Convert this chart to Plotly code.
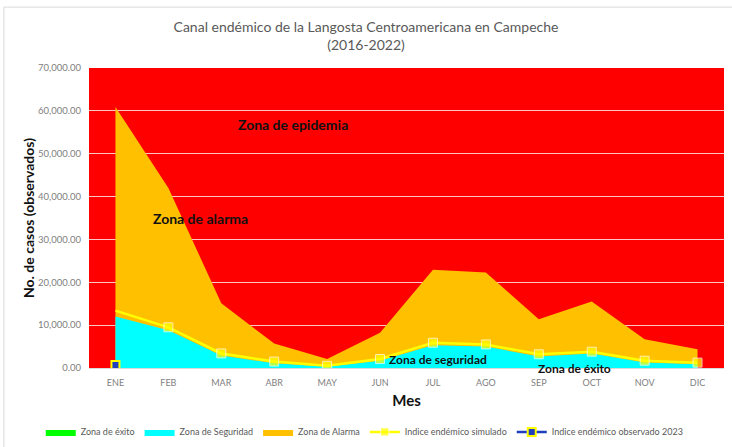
import plotly.graph_objects as go

meses = ["ENE", "FEB", "MAR", "ABR", "MAY", "JUN", "JUL", "AGO", "SEP", "OCT", "NOV", "DIC"]
zona_exito = [0, 0, 0, 0, 0, 0, 0, 0, 0, 0, 0, 0]
zona_seguridad = [12000, 8800, 2900, 1100, 300, 1700, 5300, 5000, 2700, 3400, 1300, 900]
zona_alarma = [60900, 42000, 15100, 5700, 2100, 8200, 22900, 22300, 11400, 15500, 6700, 4400]
indice_simulado = [13400, 9500, 3400, 1500, 500, 2100, 5900, 5500, 3200, 3800, 1700, 1250]
observado_meses = ["ENE"]
observado_2023 = [700]
y_ticks = [0, 10000, 20000, 30000, 40000, 50000, 60000, 70000]

FONT = "Lato, 'Open Sans', sans-serif"

fig = go.Figure()
fig.add_trace(go.Scatter(x=meses, y=zona_alarma, name="Zona de Alarma", mode="lines",
                         line=dict(width=0, color="#FFC000"), fill="tozeroy",
                         fillcolor="#FFC000"))
fig.add_trace(go.Scatter(x=meses, y=zona_seguridad, name="Zona de Seguridad", mode="lines",
                         line=dict(width=0, color="#00FFFF"), fill="tozeroy",
                         fillcolor="#00FFFF"))
fig.add_trace(go.Scatter(x=meses, y=zona_exito, name="Zona de éxito", mode="lines",
                         line=dict(width=0, color="#00FF00"), fill="tozeroy",
                         fillcolor="#00FF00"))
fig.add_trace(go.Scatter(x=meses, y=indice_simulado, name="Indice endémico simulado",
                         mode="lines+markers", line=dict(width=2.5, color="#FFFF00"),
                         marker=dict(symbol="square", size=[0] + [9] * 11, color="#FFFF00")))
fig.add_trace(go.Scatter(x=observado_meses, y=observado_2023, name="Indice endémico observado 2023",
                         mode="lines+markers", line=dict(width=2.5, color="#1F3FBF"),
                         marker=dict(symbol="square", size=8, color="#1F3FBF",
                                     line=dict(color="#FFFF00", width=2))))

order = {"Zona de éxito": 1, "Zona de Seguridad": 2, "Zona de Alarma": 3,
         "Indice endémico simulado": 4, "Indice endémico observado 2023": 5}
for tr in fig.data:
    tr.legendrank = order[tr.name]

annots = [
    dict(text="<b>Zona de epidemia</b>", x=0.321, y=0.81, size=14),
    dict(text="<b>Zona de alarma</b>", x=0.176, y=0.497, size=14),
    dict(text="<b>Zona de seguridad</b>", x=0.55, y=0.027, size=12),
    dict(text="<b>Zona de éxito</b>", x=0.765, y=-0.003, size=12),
]
for a in annots:
    fig.add_annotation(text=a["text"], x=a["x"], y=a["y"], xref="paper", yref="paper",
                       xanchor="center", yanchor="middle",
                       showarrow=False, font=dict(size=a["size"], color="#111111", family=FONT))

fig.update_layout(
    width=732, height=447,
    margin=dict(l=89, r=8, t=68, b=79, autoexpand=False),
    paper_bgcolor="white", plot_bgcolor="#FF0000",
    font=dict(family=FONT, color="#808080"),
    title=dict(text="Canal endémico de la Langosta Centroamericana en Campeche<br>(2016-2022)",
               x=0.5, xanchor="center", xref="container", y=(447 - 31.5) / 447, yanchor="middle",
               yref="container", font=dict(size=14, color="#595959", family=FONT)),
    showlegend=True,
    legend=dict(orientation="h", x=-0.076, xanchor="left", y=-0.213, yanchor="middle",
                font=dict(size=9, color="#595959", family=FONT), traceorder="normal",
                bgcolor="rgba(0,0,0,0)", itemwidth=30),
    xaxis=dict(type="category", range=[-0.5, 11.5], showgrid=False, showline=True,
               linecolor="#D9D9D9", linewidth=1, ticks="", automargin=False,
               ticklabelstandoff=6, tickfont=dict(size=9, color="#808080"),
               title=dict(text="<b>Mes</b>", font=dict(size=15, color="#111111"), standoff=8)),
    yaxis=dict(range=[0, 70000], tickvals=y_ticks, tickformat=",.2f", showgrid=True,
               gridcolor="#FFC4C4", gridwidth=1, zeroline=False, showline=False, ticks="",
               automargin=False, ticklabelstandoff=7, tickfont=dict(size=9.5, color="#808080"),
               title=dict(text="<b>No. de casos (observados)</b>", font=dict(size=14, color="#111111"),
                          standoff=0)),
    shapes=[dict(type="rect", xref="paper", yref="paper", x0=-0.134, x1=1.1, y0=-0.5, y1=1.203,
                 line=dict(color="#D9D9D9", width=1), fillcolor="rgba(0,0,0,0)", layer="below")],
)
fig.write_html("out.html", post_script="document.body.style.margin='0';",
               config={"displayModeBar": False})
